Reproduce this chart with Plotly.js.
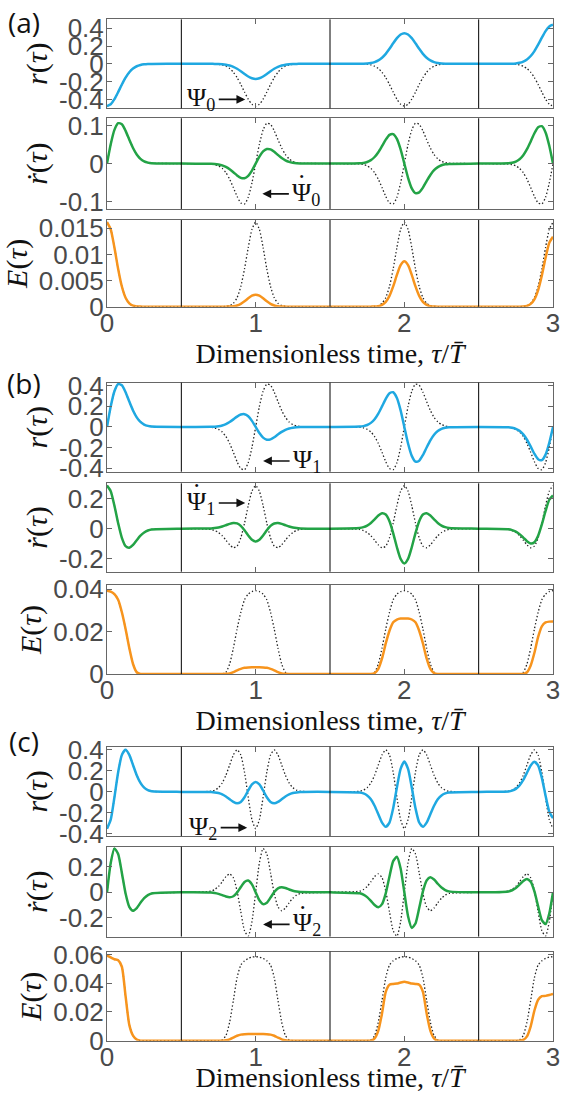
<!DOCTYPE html>
<html>
<head>
<meta charset="utf-8">
<script src="https://cdn.plot.ly/plotly-3.0.1.min.js"></script>
<style>
  html, body { margin: 0; padding: 0; background: #ffffff; }
  #fig { width: 561px; height: 1093px; }
</style>
</head>
<body>
<div id="fig"></div>
<script>
// Dimensionless time samples tau/T (pulses around 0, 1, 2, 3; flat in between)
const t = [0,0.025,0.05,0.075,0.1,0.125,0.15,0.175,0.2,0.225,0.25,0.275,0.3,
  0.5,
  0.7,0.725,0.75,0.775,0.8,0.825,0.85,0.875,0.9,0.925,0.95,0.975,1,1.025,1.05,1.075,1.1,1.125,1.15,1.175,1.2,1.225,1.25,1.275,1.3,
  1.5,
  1.7,1.725,1.75,1.775,1.8,1.825,1.85,1.875,1.9,1.925,1.95,1.975,2,2.025,2.05,2.075,2.1,2.125,2.15,2.175,2.2,2.225,2.25,2.275,2.3,
  2.5,
  2.7,2.725,2.75,2.775,2.8,2.825,2.85,2.875,2.9,2.925,2.95,2.975,3];

// ---------- (a) ----------
const rA = [-0.475,-0.4541,-0.3971,-0.3173,-0.2318,-0.1549,-0.0945,-0.0527,-0.0271,-0.0124,-0.0052,-0.0019,-0.001,
  0,
  -0.0003,-0.0007,-0.0019,-0.0044,-0.0097,-0.0189,-0.0338,-0.0554,-0.083,-0.1136,-0.1421,-0.1625,-0.17,-0.1625,-0.1421,-0.1136,-0.083,-0.0554,-0.0338,-0.0189,-0.0097,-0.0044,-0.0019,-0.0007,-0.0003,
  0,
  0.0007,0.0014,0.0038,0.009,0.0197,0.0383,0.0687,0.1125,0.1684,0.2305,0.2884,0.3298,0.345,0.3298,0.2884,0.2305,0.1684,0.1125,0.0687,0.0383,0.0197,0.009,0.0038,0.0014,0.0007,
  0,
  0.0009,0.0018,0.0048,0.0114,0.0251,0.0488,0.0876,0.1434,0.2147,0.2939,0.3678,0.4206,0.44];
const psiA = [-0.475,-0.4541,-0.3971,-0.3173,-0.2318,-0.1549,-0.0945,-0.0527,-0.0271,-0.0124,-0.0052,-0.0019,-0.001,
  0,
  -0.001,-0.0019,-0.0052,-0.0124,-0.0271,-0.0527,-0.0945,-0.1549,-0.2318,-0.3173,-0.3971,-0.4541,-0.475,-0.4541,-0.3971,-0.3173,-0.2318,-0.1549,-0.0945,-0.0527,-0.0271,-0.0124,-0.0052,-0.0019,-0.001,
  0,
  -0.001,-0.0019,-0.0052,-0.0124,-0.0271,-0.0527,-0.0945,-0.1549,-0.2318,-0.3173,-0.3971,-0.4541,-0.475,-0.4541,-0.3971,-0.3173,-0.2318,-0.1549,-0.0945,-0.0527,-0.0271,-0.0124,-0.0052,-0.0019,-0.001,
  0,
  -0.001,-0.0019,-0.0052,-0.0124,-0.0271,-0.0527,-0.0945,-0.1549,-0.2318,-0.3173,-0.3971,-0.4541,-0.475];
const rdA = [0,0.0511,0.0892,0.1069,0.104,0.0867,0.0634,0.0413,0.024,0.0125,0.0059,0.0026,0.001,
  0,
  -0.0004,-0.0009,-0.0021,-0.0045,-0.0087,-0.0149,-0.0229,-0.0313,-0.0376,-0.0386,-0.0322,-0.0184,0,0.0184,0.0322,0.0386,0.0376,0.0313,0.0229,0.0149,0.0087,0.0045,0.0021,0.0009,0.0004,
  0,
  0.0007,0.0019,0.0043,0.0092,0.0175,0.0302,0.0464,0.0634,0.0761,0.0782,0.0653,0.0374,0,-0.0374,-0.0653,-0.0782,-0.0761,-0.0634,-0.0464,-0.0302,-0.0175,-0.0092,-0.0043,-0.0019,-0.0007,
  0,
  0.0009,0.0024,0.0055,0.0116,0.0222,0.0382,0.0587,0.0803,0.0963,0.099,0.0826,0.0473,0];
const dpsiA = [0,0.0511,0.0892,0.1069,0.104,0.0867,0.0634,0.0413,0.024,0.0125,0.0059,0.0026,0.001,
  0,
  -0.001,-0.0026,-0.0059,-0.0125,-0.024,-0.0413,-0.0634,-0.0867,-0.104,-0.1069,-0.0892,-0.0511,0,0.0511,0.0892,0.1069,0.104,0.0867,0.0634,0.0413,0.024,0.0125,0.0059,0.0026,0.001,
  0,
  -0.001,-0.0026,-0.0059,-0.0125,-0.024,-0.0413,-0.0634,-0.0867,-0.104,-0.1069,-0.0892,-0.0511,0,0.0511,0.0892,0.1069,0.104,0.0867,0.0634,0.0413,0.024,0.0125,0.0059,0.0026,0.001,
  0,
  -0.001,-0.0026,-0.0059,-0.0125,-0.024,-0.0413,-0.0634,-0.0867,-0.104,-0.1069,-0.0892,-0.0511,0];
const EA = [0.0162,0.01481,0.01132,0.00723,0.00386,0.00172,0.00065,0.00019,0.00005,0.00002,0,0,0,
  0,
  0,0,0,0,0.00001,0.00003,0.00009,0.00024,0.00055,0.00103,0.00161,0.0021,0.0023,0.0021,0.00161,0.00103,0.00055,0.00024,0.00009,0.00003,0.00001,0,0,0,0,
  0,
  0,0,0,0.00001,0.00003,0.0001,0.00035,0.00092,0.00207,0.00388,0.00608,0.00795,0.0087,0.00795,0.00608,0.00388,0.00207,0.00092,0.00035,0.0001,0.00003,0.00001,0,0,0,
  0,
  0,0,0,0.00001,0.00004,0.00016,0.00054,0.00142,0.00319,0.00598,0.00937,0.01225,0.0134];
const ErefA = [0.0162,0.01481,0.01132,0.00723,0.00386,0.00172,0.00065,0.00019,0.00005,0.00002,0,0,0,
  0,
  0,0,0,0.00002,0.00005,0.00019,0.00065,0.00172,0.00386,0.00723,0.01132,0.01481,0.0162,0.01481,0.01132,0.00723,0.00386,0.00172,0.00065,0.00019,0.00005,0.00002,0,0,0,
  0,
  0,0,0,0.00002,0.00005,0.00019,0.00065,0.00172,0.00386,0.00723,0.01132,0.01481,0.0162,0.01481,0.01132,0.00723,0.00386,0.00172,0.00065,0.00019,0.00005,0.00002,0,0,0,
  0,
  0,0,0,0.00002,0.00005,0.00019,0.00065,0.00172,0.00386,0.00723,0.01132,0.01481,0.0162];

// ---------- (b) ----------
const rB = [0,0.1987,0.3469,0.4158,0.4045,0.3373,0.2465,0.1604,0.0932,0.0487,0.0231,0.0101,0.0038,
  0,
  0.0011,0.003,0.0069,0.0145,0.0278,0.0478,0.0734,0.1004,0.1204,0.1238,0.1033,0.0591,0,-0.0591,-0.1033,-0.1238,-0.1204,-0.1004,-0.0734,-0.0478,-0.0278,-0.0145,-0.0069,-0.003,-0.0011,
  0,
  0.0031,0.0082,0.0187,0.0394,0.0755,0.1299,0.1996,0.273,0.3274,0.3366,0.2808,0.1608,0,-0.1608,-0.2808,-0.3366,-0.3274,-0.273,-0.1996,-0.1299,-0.0755,-0.0394,-0.0187,-0.0082,-0.0031,
  0,
  -0.0029,-0.0078,-0.0179,-0.0377,-0.0722,-0.1242,-0.1908,-0.261,-0.313,-0.3218,-0.2685,-0.1537,0];
const psiB = [0,0.1987,0.3469,0.4158,0.4045,0.3373,0.2465,0.1604,0.0932,0.0487,0.0231,0.0101,0.0038,
  0,
  -0.0038,-0.0101,-0.0231,-0.0487,-0.0932,-0.1604,-0.2465,-0.3373,-0.4045,-0.4158,-0.3469,-0.1987,0,0.1987,0.3469,0.4158,0.4045,0.3373,0.2465,0.1604,0.0932,0.0487,0.0231,0.0101,0.0038,
  0,
  -0.0038,-0.0101,-0.0231,-0.0487,-0.0932,-0.1604,-0.2465,-0.3373,-0.4045,-0.4158,-0.3469,-0.1987,0,0.1987,0.3469,0.4158,0.4045,0.3373,0.2465,0.1604,0.0932,0.0487,0.0231,0.0101,0.0038,
  0,
  -0.0038,-0.0101,-0.0231,-0.0487,-0.0932,-0.1604,-0.2465,-0.3373,-0.4045,-0.4158,-0.3469,-0.1987,0];
const rdB = [0.285,0.248,0.1522,0.0362,-0.061,-0.1157,-0.1263,-0.1072,-0.0761,-0.0467,-0.0254,-0.0123,-0.0051,
  0,
  0.0015,0.0037,0.0076,0.0139,0.0227,0.032,0.0377,0.0345,0.0182,-0.0108,-0.0454,-0.074,-0.085,-0.074,-0.0454,-0.0108,0.0182,0.0345,0.0377,0.032,0.0227,0.0139,0.0076,0.0037,0.0015,
  0,
  0.0041,0.0099,0.0205,0.0377,0.0614,0.0865,0.1019,0.0934,0.0492,-0.0292,-0.1228,-0.2001,-0.23,-0.2001,-0.1228,-0.0292,0.0492,0.0934,0.1019,0.0865,0.0614,0.0377,0.0205,0.0099,0.0041,
  0,
  -0.004,-0.0095,-0.0196,-0.0361,-0.0587,-0.0827,-0.0975,-0.0893,-0.0471,0.0279,0.1175,0.1914,0.22];
const dpsiB = [0.285,0.248,0.1522,0.0362,-0.061,-0.1157,-0.1263,-0.1072,-0.0761,-0.0467,-0.0254,-0.0123,-0.0051,
  0,
  -0.0051,-0.0123,-0.0254,-0.0467,-0.0761,-0.1072,-0.1263,-0.1157,-0.061,0.0362,0.1522,0.248,0.285,0.248,0.1522,0.0362,-0.061,-0.1157,-0.1263,-0.1072,-0.0761,-0.0467,-0.0254,-0.0123,-0.0051,
  0,
  -0.0051,-0.0123,-0.0254,-0.0467,-0.0761,-0.1072,-0.1263,-0.1157,-0.061,0.0362,0.1522,0.248,0.285,0.248,0.1522,0.0362,-0.061,-0.1157,-0.1263,-0.1072,-0.0761,-0.0467,-0.0254,-0.0123,-0.0051,
  0,
  -0.0051,-0.0123,-0.0254,-0.0467,-0.0761,-0.1072,-0.1263,-0.1157,-0.061,0.0362,0.1522,0.248,0.285];
const EB = [0.0393,0.0389,0.0377,0.035,0.0291,0.0212,0.0122,0.0047,0.0008,0,0,0,0,
  0,
  0,0,0,0,0.00005,0.00028,0.00087,0.00171,0.00242,0.00288,0.00304,0.0031,0.0031,0.0031,0.00304,0.00288,0.00242,0.00171,0.00087,0.00028,0.00005,0,0,0,0,
  0,
  0,0,0,0,0.0004,0.0024,0.0073,0.0144,0.0204,0.0244,0.0257,0.0262,0.0262,0.0262,0.0257,0.0244,0.0204,0.0144,0.0073,0.0024,0.0004,0,0,0,0,
  0,
  0,0,0,0,0,0.0008,0.004,0.01,0.0175,0.0225,0.0243,0.0247,0.0248];
const ErefB = [0.0393,0.0389,0.0377,0.035,0.0291,0.0212,0.0122,0.0047,0.0008,0,0,0,0,
  0,
  0,0,0,0,0.0008,0.0047,0.0122,0.0212,0.0291,0.035,0.0377,0.0389,0.0393,0.0389,0.0377,0.035,0.0291,0.0212,0.0122,0.0047,0.0008,0,0,0,0,
  0,
  0,0,0,0,0.0008,0.0047,0.0122,0.0212,0.0291,0.035,0.0377,0.0389,0.0393,0.0389,0.0377,0.035,0.0291,0.0212,0.0122,0.0047,0.0008,0,0,0,0,
  0,
  0,0,0,0,0.0008,0.0047,0.0122,0.0212,0.0291,0.035,0.0377,0.0389,0.0393];

// ---------- (c) ----------
const rC = [-0.35,-0.2639,-0.0508,0.1873,0.3518,0.4008,0.3525,0.2562,0.1589,0.0854,0.0403,0.0168,0.0063,
  0,
  -0.0017,-0.0046,-0.0109,-0.0232,-0.0431,-0.0695,-0.0957,-0.1088,-0.0955,-0.0508,0.0138,0.0716,0.095,0.0716,0.0138,-0.0508,-0.0955,-0.1088,-0.0957,-0.0695,-0.0431,-0.0232,-0.0109,-0.0046,-0.0017,
  0,
  -0.0052,-0.0139,-0.0334,-0.0708,-0.1317,-0.2123,-0.292,-0.3321,-0.2915,-0.1552,0.0421,0.2187,0.29,0.2187,0.0421,-0.1552,-0.2915,-0.3321,-0.292,-0.2123,-0.1317,-0.0708,-0.0334,-0.0139,-0.0052,
  0,
  0.0045,0.012,0.0288,0.061,0.1135,0.183,0.2518,0.2863,0.2513,0.1338,-0.0363,-0.1885,-0.25];
const psiC = [-0.35,-0.2639,-0.0508,0.1873,0.3518,0.4008,0.3525,0.2562,0.1589,0.0854,0.0403,0.0168,0.0063,
  0,
  0.0063,0.0168,0.0403,0.0854,0.1589,0.2562,0.3525,0.4008,0.3518,0.1873,-0.0508,-0.2639,-0.35,-0.2639,-0.0508,0.1873,0.3518,0.4008,0.3525,0.2562,0.1589,0.0854,0.0403,0.0168,0.0063,
  0,
  0.0063,0.0168,0.0403,0.0854,0.1589,0.2562,0.3525,0.4008,0.3518,0.1873,-0.0508,-0.2639,-0.35,-0.2639,-0.0508,0.1873,0.3518,0.4008,0.3525,0.2562,0.1589,0.0854,0.0403,0.0168,0.0063,
  0,
  0.0063,0.0168,0.0403,0.0854,0.1589,0.2562,0.3525,0.4008,0.3518,0.1873,-0.0508,-0.2639,-0.35];
const rdC = [0,0.2291,0.3416,0.2991,0.1511,-0.0097,-0.1135,-0.1439,-0.1225,-0.0821,-0.0459,-0.0221,-0.009,
  0,
  -0.0024,-0.006,-0.0124,-0.0221,-0.033,-0.0388,-0.0306,-0.0026,0.0407,0.0806,0.0921,0.0618,0,-0.0618,-0.0921,-0.0806,-0.0407,0.0026,0.0306,0.0388,0.033,0.0221,0.0124,0.006,0.0024,
  0,
  -0.0073,-0.0179,-0.0372,-0.0666,-0.0994,-0.1168,-0.0921,-0.0078,0.1226,0.2428,0.2772,0.1859,0,-0.1859,-0.2772,-0.2428,-0.1226,0.0078,0.0921,0.1168,0.0994,0.0666,0.0372,0.0179,0.0073,
  0,
  0.0065,0.016,0.0333,0.0595,0.0888,0.1043,0.0823,0.007,-0.1095,-0.2168,-0.2475,-0.166,0];
const dpsiC = [0,0.2291,0.3416,0.2991,0.1511,-0.0097,-0.1135,-0.1439,-0.1225,-0.0821,-0.0459,-0.0221,-0.009,
  0,
  0.009,0.0221,0.0459,0.0821,0.1225,0.1439,0.1135,0.0097,-0.1511,-0.2991,-0.3416,-0.2291,0,0.2291,0.3416,0.2991,0.1511,-0.0097,-0.1135,-0.1439,-0.1225,-0.0821,-0.0459,-0.0221,-0.009,
  0,
  0.009,0.0221,0.0459,0.0821,0.1225,0.1439,0.1135,0.0097,-0.1511,-0.2991,-0.3416,-0.2291,0,0.2291,0.3416,0.2991,0.1511,-0.0097,-0.1135,-0.1439,-0.1225,-0.0821,-0.0459,-0.0221,-0.009,
  0,
  0.009,0.0221,0.0459,0.0821,0.1225,0.1439,0.1135,0.0097,-0.1511,-0.2991,-0.3416,-0.2291,0];
const EC = [0.0592,0.058,0.0567,0.056,0.0515,0.031,0.011,0.0035,0.0008,0,0,0,0,
  0,
  0,0,0,0,0.0002,0.0009,0.0021,0.0034,0.0042,0.0045,0.0046,0.0046,0.0046,0.0046,0.0046,0.0045,0.0042,0.0034,0.0021,0.0009,0.0002,0,0,0,0,
  0,
  0,0,0,0,0.0015,0.007,0.019,0.034,0.039,0.0395,0.0398,0.0405,0.041,0.0405,0.0398,0.0395,0.039,0.034,0.019,0.007,0.0015,0,0,0,0,
  0,
  0,0,0,0,0.0005,0.003,0.01,0.021,0.0285,0.031,0.0312,0.0318,0.0325];
const ErefC = [0.0592,0.058,0.0567,0.056,0.0515,0.031,0.011,0.0035,0.0008,0,0,0,0,
  0,
  0,0,0,0.0006,0.0035,0.0129,0.0281,0.0439,0.0527,0.0556,0.0573,0.0582,0.0585,0.0582,0.0573,0.0556,0.0527,0.0439,0.0281,0.0129,0.0035,0.0006,0,0,0,
  0,
  0,0,0,0.0006,0.0035,0.0129,0.0281,0.0439,0.0527,0.0556,0.0573,0.0582,0.0585,0.0582,0.0573,0.0556,0.0527,0.0439,0.0281,0.0129,0.0035,0.0006,0,0,0,
  0,
  0,0,0,0.0006,0.0035,0.0129,0.0281,0.0439,0.0527,0.0556,0.0573,0.0582,0.0585];

// Tick values and labels
const xTicks = [0, 1, 2, 3];
const xTickText = ['0', '1', '2', '3'];
const rTicks = [-0.4, -0.2, 0, 0.2, 0.4];
const rTickText = ['-0.4', '-0.2', '0', '0.2', '0.4'];
const rdTicksA = [-0.1, 0, 0.1];
const rdTickTextA = ['-0.1', '0', '0.1'];
const rdTicksBC = [-0.2, 0, 0.2];
const rdTickTextBC = ['-0.2', '0', '0.2'];
const ETicksA = [0, 0.005, 0.01, 0.015];
const ETickTextA = ['0', '0.005', '0.01', '0.015'];
const ETicksB = [0, 0.02, 0.04];
const ETickTextB = ['0', '0.02', '0.04'];
const ETicksC = [0, 0.02, 0.04, 0.06];
const ETickTextC = ['0', '0.02', '0.04', '0.06'];
const dividers = [0.5, 1.5, 2.5];

const BLUE = '#1fa8e1', GREEN = '#23a346', ORANGE = '#f7941d';
const AXC = '#666666';
const TICKFONT = { family: 'Liberation Sans, Arial, sans-serif', size: 26, color: '#4a4a4a' };
const SERIF = 'Liberation Serif, Times New Roman, serif';

const rLab = '<i>r</i>(<i>τ</i>)';
const rdLab = '<i>ṙ</i>(<i>τ</i>)';
const ELab = '<i>E</i>(<i>τ</i>)';

// panel table: series, colour, y range, ticks, y-domain (paper fraction)
const panels = [
  { y: rA,  ref: psiA,  c: BLUE,   rng: [-0.5, 0.5],    tv: rTicks,    tt: rTickText,    lab: rLab,  dom: [0.9009, 0.9823] },
  { y: rdA, ref: dpsiA, c: GREEN,  rng: [-0.12, 0.12],  tv: rdTicksA,  tt: rdTickTextA,  lab: rdLab, dom: [0.8088, 0.8918] },
  { y: EA,  ref: ErefA, c: ORANGE, rng: [0, 0.0166],    tv: ETicksA,   tt: ETickTextA,   lab: ELab,  dom: [0.7194, 0.7987], bottom: true },
  { y: rB,  ref: psiB,  c: BLUE,   rng: [-0.435, 0.43], tv: rTicks,    tt: rTickText,    lab: rLab,  dom: [0.5684, 0.6499] },
  { y: rdB, ref: dpsiB, c: GREEN,  rng: [-0.285, 0.3],  tv: rdTicksBC, tt: rdTickTextBC, lab: rdLab, dom: [0.4769, 0.5578] },
  { y: EB,  ref: ErefB, c: ORANGE, rng: [0, 0.042],     tv: ETicksB,   tt: ETickTextB,   lab: ELab,  dom: [0.3834, 0.4648], bottom: true },
  { y: rC,  ref: psiC,  c: BLUE,   rng: [-0.42, 0.43],  tv: rTicks,    tt: rTickText,    lab: rLab,  dom: [0.2351, 0.3168] },
  { y: rdC, ref: dpsiC, c: GREEN,  rng: [-0.345, 0.355],tv: rdTicksBC, tt: rdTickTextBC, lab: rdLab, dom: [0.1431, 0.2253] },
  { y: EC,  ref: ErefC, c: ORANGE, rng: [0, 0.062],     tv: ETicksC,   tt: ETickTextC,   lab: ELab,  dom: [0.0479, 0.1293], bottom: true }
];

const traces = [];
const shapes = [];
const layout = {
  width: 561, height: 1093,
  margin: { l: 107, r: 8, t: 0, b: 0 },
  paper_bgcolor: '#ffffff', plot_bgcolor: '#ffffff',
  showlegend: false,
  annotations: []
};

panels.forEach((p, i) => {
  const n = i + 1;
  const sfx = n === 1 ? '' : String(n);
  traces.push({
    x: t, y: p.ref, xaxis: 'x' + sfx, yaxis: 'y' + sfx, mode: 'lines', hoverinfo: 'skip',
    line: { color: '#222222', width: 1.3, dash: '1.4px,2.2px', shape: 'spline', smoothing: 0.6 }
  });
  traces.push({
    x: t, y: p.y, xaxis: 'x' + sfx, yaxis: 'y' + sfx, mode: 'lines', hoverinfo: 'skip',
    line: { color: p.c, width: 2.5, shape: 'spline', smoothing: 0.6 }
  });
  layout['xaxis' + sfx] = {
    domain: [0, 1], anchor: 'y' + sfx, range: [0, 3],
    tickmode: 'array', tickvals: xTicks, ticktext: xTickText,
    showticklabels: !!p.bottom, tickfont: TICKFONT, ticklabelstandoff: -7,
    ticks: 'inside', ticklen: 5, tickcolor: AXC, tickwidth: 1,
    showline: true, linecolor: AXC, linewidth: 1, mirror: 'ticks',
    showgrid: false, zeroline: false, fixedrange: true,
    title: p.bottom ? { text: 'Dimensionless time, <i>τ</i>/<i>T̄</i>',
                        font: { family: SERIF, size: 28, color: '#111' }, standoff: 3 } : undefined
  };
  layout['yaxis' + sfx] = {
    domain: p.dom, anchor: 'x' + sfx, range: p.rng,
    tickmode: 'array', tickvals: p.tv, ticktext: p.tt, tickfont: TICKFONT, ticklabelstandoff: -3,
    ticks: 'inside', ticklen: 5, tickcolor: AXC, tickwidth: 1,
    showline: true, linecolor: AXC, linewidth: 1, mirror: 'ticks',
    showgrid: false, zeroline: false, fixedrange: true,
    title: { text: p.lab, font: { family: SERIF, size: 30, color: '#111' }, standoff: 2 }
  };
  dividers.forEach(xv => shapes.push({
    type: 'line', xref: 'x' + sfx, yref: 'y' + sfx + ' domain',
    x0: xv, x1: xv, y0: 0, y1: 1, line: { color: '#000', width: 1 }
  }));
});
layout.shapes = shapes;

// panel letters
[['(a)', 0.980], ['(b)', 0.6496], ['(c)', 0.322]].forEach(([txt, yy]) => {
  layout.annotations.push({
    xref: 'paper', yref: 'paper', x: -0.186, y: yy, xanchor: 'center', yanchor: 'middle',
    text: txt, showarrow: false, font: { family: 'Open Sans, Liberation Sans, sans-serif', size: 28, color: '#111' }
  });
});

// labelled arrows; "dot" marks the time-derivative symbols
const arrowNotes = [
  { text: 'Ψ<sub>0</sub>', xr: 'x',  yr: 'y',  x: 0.93,  y: -0.40, ax: -44, dot: false },
  { text: 'Ψ<sub>0</sub>', xr: 'x2', yr: 'y2', x: 1.045, y: -0.08, ax: 44,  dot: true },
  { text: 'Ψ<sub>1</sub>', xr: 'x4', yr: 'y4', x: 1.05,  y: -0.33, ax: 44,  dot: false },
  { text: 'Ψ<sub>1</sub>', xr: 'x5', yr: 'y5', x: 0.93,  y: 0.17,  ax: -44, dot: true },
  { text: 'Ψ<sub>2</sub>', xr: 'x7', yr: 'y7', x: 0.943, y: -0.34, ax: -44, dot: false },
  { text: 'Ψ<sub>2</sub>', xr: 'x8', yr: 'y8', x: 1.05,  y: -0.25, ax: 44,  dot: true }
];
arrowNotes.forEach(a => {
  layout.annotations.push({
    xref: a.xr, yref: a.yr, x: a.x, y: a.y, ax: a.ax, ay: 0, axref: 'pixel', ayref: 'pixel',
    text: a.text, showarrow: true, arrowhead: 2, arrowsize: 1.1, arrowwidth: 1.6, arrowcolor: '#111',
    standoff: 0, startstandoff: 2,
    font: { family: SERIF, size: 26, color: '#111' }
  });
  if (a.dot) {
    layout.annotations.push({
      xref: a.xr, yref: a.yr, x: a.x, y: a.y, xshift: a.ax - 5, yshift: 10,
      text: '˙', showarrow: false, font: { family: SERIF, size: 28, color: '#111' }
    });
  }
});

Plotly.newPlot('fig', traces, layout, { staticPlot: true, displayModeBar: false });
</script>
</body>
</html>
